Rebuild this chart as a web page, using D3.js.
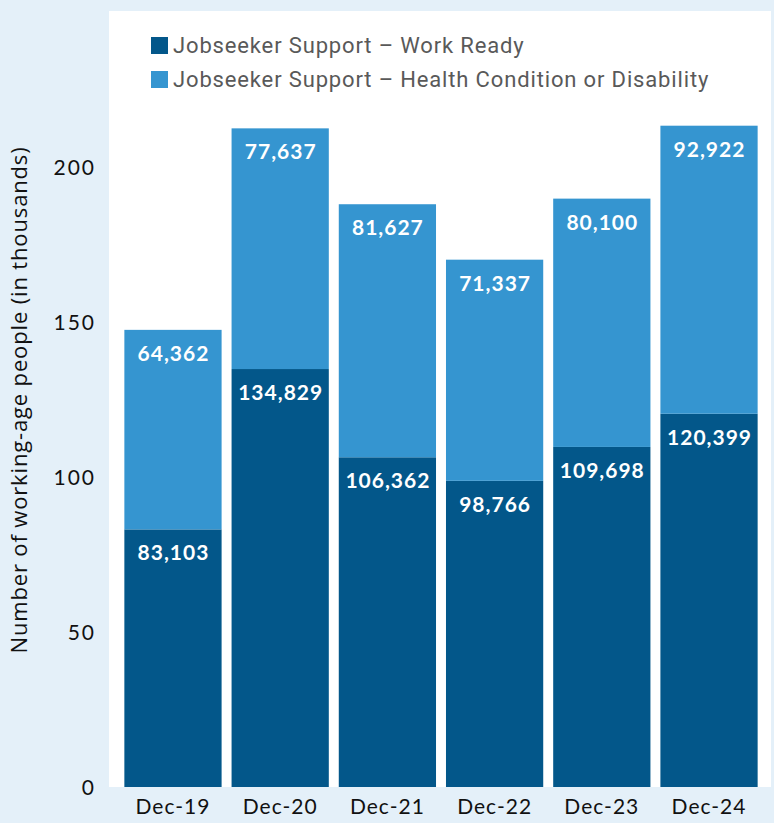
<!DOCTYPE html>
<html><head><meta charset="utf-8">
<script src="https://cdn.jsdelivr.net/npm/d3@7"></script>
<style>body{margin:0;background:#e4f0f9;}svg{display:block;}</style>
</head><body><svg id="c" width="774" height="823"></svg>
<script>
const categories = ["Dec-19","Dec-20","Dec-21","Dec-22","Dec-23","Dec-24"];
const workReady = [83103,134829,106362,98766,109698,120399];
const healthDisability = [64362,77637,81627,71337,80100,92922];
const seriesNames = ["Jobseeker Support \u2013 Work Ready","Jobseeker Support \u2013 Health Condition or Disability"];
const yTicks = [0,50,100,150,200];
const colors = ["#03578a","#3595d0"];

(function(){
const svg = d3.select("#c");
const W=774,H=823;
svg.append("rect").attr("width",W).attr("height",H).attr("fill","#e4f0f9");
const pLeft=109, pRight=771, pTop=11, pBottom=787;
svg.append("rect").attr("x",pLeft).attr("y",pTop).attr("width",pRight-pLeft).attr("height",pBottom-pTop).attr("fill","#fff");

const x = d3.scaleBand().domain(categories).range([119,763]).paddingInner(0.093).paddingOuter(0.05);
const y = d3.scaleLinear().domain([0,250]).range([pBottom,pTop+1]);

const data = categories.map((c,i)=>({c, a:workReady[i]/1000, b:healthDisability[i]/1000, av:workReady[i], bv:healthDisability[i]}));
const fmt = d3.format(",");
const font = "Lato, 'Open Sans', sans-serif";

const g = svg.append("g");
data.forEach(d=>{
  g.append("rect").attr("x",x(d.c)).attr("width",x.bandwidth()).attr("y",y(d.a)).attr("height",y(0)-y(d.a)).attr("fill",colors[0]);
  g.append("rect").attr("x",x(d.c)).attr("width",x.bandwidth()).attr("y",y(d.a+d.b)).attr("height",y(d.a)-y(d.a+d.b)).attr("fill",colors[1]);
  [[d.av,y(d.a)],[d.bv,y(d.a+d.b)]].forEach(([v,yy])=>{
    g.append("text").attr("x",x(d.c)+x.bandwidth()/2+0.5).attr("y",yy+31).attr("text-anchor","middle")
      .attr("fill","#fff").attr("font-family",font).attr("font-weight","bold").attr("font-size",21)
      .attr("letter-spacing",1).text(fmt(v));
  });
});

const ya = svg.append("g").attr("transform",`translate(96,0)`)
  .call(d3.axisLeft(y).tickValues(yTicks).tickSize(0).tickPadding(0));
ya.select(".domain").remove();
ya.selectAll("text").attr("font-family",font).attr("font-size",21).attr("letter-spacing",2).attr("fill","#111").attr("dy","0.35em");

const xa = svg.append("g").attr("transform",`translate(0,${pBottom})`)
  .call(d3.axisBottom(x).tickSize(0).tickPadding(12));
xa.select(".domain").remove();
xa.selectAll("text").attr("font-family",font).attr("font-size",21).attr("letter-spacing",1).attr("fill","#111").attr("dy","0.71em");

svg.append("text").attr("transform",`translate(27,400) rotate(-90)`).attr("text-anchor","middle")
  .attr("font-family","'Open Sans', sans-serif").attr("font-size",22).attr("letter-spacing",0.85).attr("fill","#111")
  .text("Number of working-age people (in thousands)");

seriesNames.forEach((n,i)=>{
  const ly = 37 + i*34;
  svg.append("rect").attr("x",151).attr("y",ly).attr("width",17).attr("height",17).attr("fill",colors[i]);
  svg.append("text").attr("x",173).attr("y",ly+16).attr("font-family","Roboto, sans-serif").attr("font-size",22)
    .attr("letter-spacing",0.85).attr("fill","#595959").text(n);
});
})();
</script></body></html>
